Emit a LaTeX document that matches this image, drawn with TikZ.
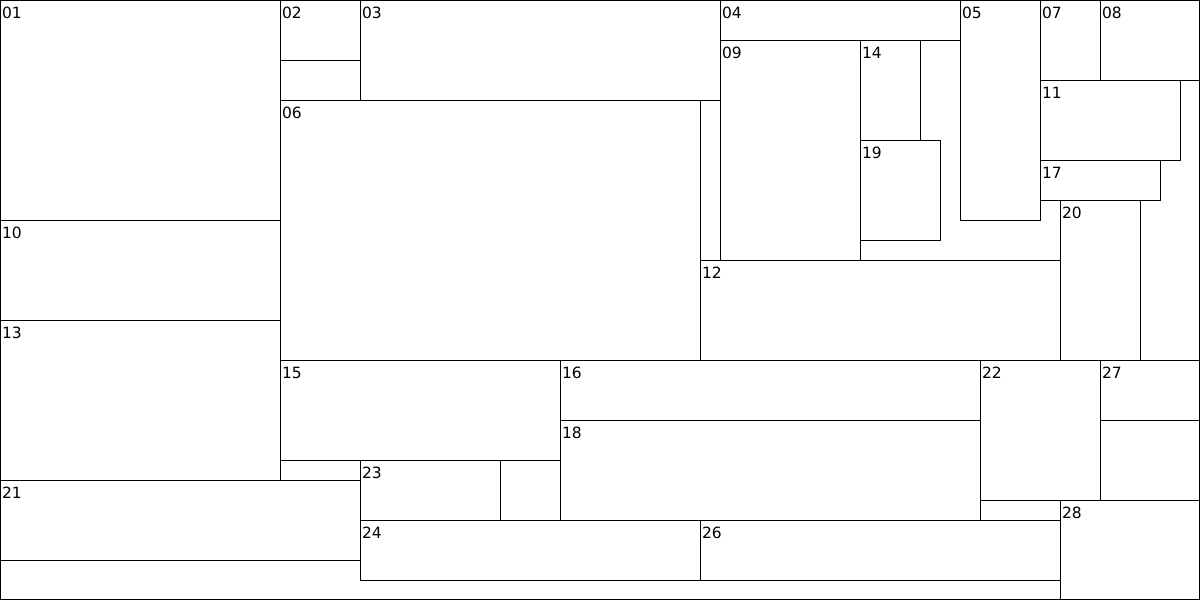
\documentclass[tikz,border=0pt]{standalone}
\usepackage{fontspec}
\setmainfont{DejaVu Sans}
\begin{document}
\begin{tikzpicture}[x=1pt,y=-1pt,
  box/.style={draw=black, line width=1pt, fill=none, anchor=north west, inner sep=0pt, outer sep=0pt},
  lbl/.style={anchor=base west, inner sep=0pt, font=\fontsize{15.5}{15.5}\selectfont, text=black}]
\useasboundingbox (0,0) rectangle (1200,600);
\newcommand\bx[5]{%
  \node[box, minimum width={#4-#2}, minimum height={#5-#3}] (r#1) at ({#2+0.5},{#3+0.5}) {};
  \node[lbl] (t#1) at ({#2+1.8},{#3+18.6}) {#1};}
\node[box, minimum width=1199, minimum height=599] (frame) at (0.5,0.5) {};
\bx{01}{0}{0}{280}{220}
\bx{02}{280}{0}{360}{60}
\bx{03}{360}{0}{720}{100}
\bx{04}{720}{0}{960}{40}
\bx{05}{960}{0}{1040}{220}
\bx{06}{280}{100}{700}{360}
\bx{07}{1040}{0}{1100}{80}
\bx{08}{1100}{0}{1200}{80}
\bx{09}{720}{40}{860}{260}
\bx{10}{0}{220}{280}{320}
\bx{11}{1040}{80}{1180}{160}
\bx{12}{700}{260}{1060}{360}
\bx{13}{0}{320}{280}{480}
\bx{14}{860}{40}{920}{140}
\bx{15}{280}{360}{560}{460}
\bx{16}{560}{360}{980}{420}
\bx{17}{1040}{160}{1160}{200}
\bx{18}{560}{420}{980}{520}
\bx{19}{860}{140}{940}{240}
\bx{20}{1060}{200}{1140}{360}
\bx{21}{0}{480}{360}{560}
\bx{22}{980}{360}{1100}{500}
\bx{23}{360}{460}{500}{520}
\bx{24}{360}{520}{700}{580}
\bx{26}{700}{520}{1060}{580}
\bx{27}{1100}{360}{1200}{420}
\bx{28}{1060}{500}{1200}{600}
\end{tikzpicture}
\end{document}
